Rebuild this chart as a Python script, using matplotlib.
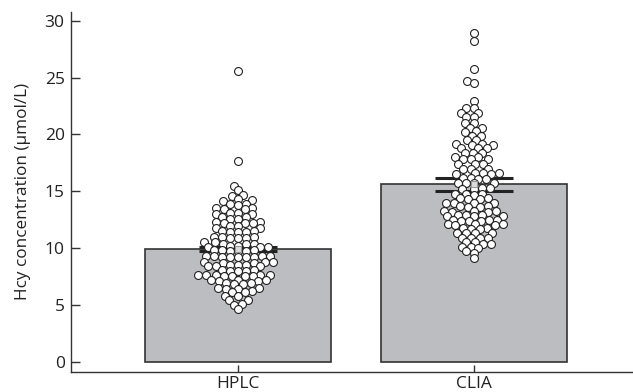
import matplotlib
matplotlib.use("Agg")
import matplotlib.pyplot as plt
import numpy as np

categories = ["HPLC", "CLIA"]
means = [9.9, 15.6]
sems = [0.2, 0.54]
yticks = [0, 5, 10, 15, 20, 25, 30]

hplc = [25.6, 17.7,
        15.5, 15.1, 14.7, 14.6,
        14.3, 14.2, 14.1,
        13.9, 13.9, 13.8,
        13.5, 13.5, 13.4, 13.4,
        13.1, 13.1, 13.0, 13.0,
        12.7, 12.7, 12.6, 12.6,
        12.3, 12.3, 12.2, 12.2, 12.2,
        11.9, 11.9, 11.8, 11.8,
        11.5, 11.5, 11.4, 11.4, 11.4,
        11.0, 11.0, 11.0, 10.9, 10.9, 10.9,
        10.5, 10.5, 10.4, 10.4, 10.4,
        10.2, 10.2, 10.1, 10.1, 10.1,
        9.8, 9.8, 9.8, 9.7, 9.7, 9.7,
        9.3, 9.3, 9.3, 9.3, 9.2, 9.2, 9.2, 9.2, 9.2,
        8.8, 8.8, 8.8, 8.7, 8.7,
        8.5, 8.5, 8.5, 8.4, 8.4, 8.4,
        8.1, 8.1, 8.0, 8.0, 8.0,
        7.6, 7.6, 7.6, 7.6, 7.6, 7.5, 7.5, 7.5, 7.5,
        7.2, 7.2, 7.2, 7.1, 7.1,
        6.9, 6.9, 6.8, 6.8,
        6.5, 6.5, 6.4, 6.4,
        6.2, 6.1, 6.1,
        5.8, 5.8,
        5.4, 5.4,
        5.1, 5.0,
        4.6]

clia = [28.9, 28.2, 25.8, 24.7, 24.5,
        22.9,
        22.3, 22.3,
        21.9, 21.9,
        21.5, 21.5,
        21.0, 21.0,
        20.6, 20.6,
        20.3, 20.2,
        19.9, 19.9,
        19.5, 19.5,
        19.2, 19.2, 19.1, 19.1,
        18.8, 18.8, 18.8,
        18.4, 18.4, 18.4,
        18.0, 18.0,
        17.8, 17.8, 17.8,
        17.4, 17.4, 17.4,
        17.0, 17.0, 17.0,
        16.6, 16.6, 16.6, 16.5, 16.5,
        16.2, 16.2, 16.1, 16.1,
        15.7, 15.7, 15.7, 15.7,
        15.3, 15.3, 15.2, 15.2,
        14.8, 14.8, 14.8, 14.7,
        14.4, 14.4, 14.3, 14.3,
        14.0, 14.0, 14.0, 14.0,
        13.7, 13.7, 13.6, 13.6,
        13.3, 13.3, 13.3, 13.2, 13.2,
        12.9, 12.9, 12.9, 12.8, 12.8, 12.8,
        12.5, 12.5, 12.5, 12.4, 12.4, 12.4,
        12.1, 12.1, 12.1, 12.0, 12.0,
        11.8, 11.8, 11.7, 11.7,
        11.3, 11.3, 11.3, 11.3,
        10.9, 10.9, 10.9, 10.9,
        10.5, 10.5, 10.4, 10.4,
        10.1, 10.1, 10.0,
        9.7, 9.6,
        9.1]

plt.rcParams['font.family'] = ['Open Sans', 'DejaVu Sans']

fig = plt.figure(figsize=(6.33, 3.92), dpi=100)
ax = fig.add_axes([0.112, 0.0518, 0.888, 0.918])
ax.set_xlim(-0.71, 1.675)
ax.set_ylim(-0.88, 30.79)

xpos = np.arange(len(categories))
ax.bar(xpos, means, width=0.79, color="#bcbdc0", edgecolor="#333333", linewidth=1.2, zorder=1)


def beeswarm_offsets(values, wx, wy):
    """x offsets (pixels) so that points do not collide within an ellipse wx by wy."""
    ypx = ax.transData.transform(np.column_stack([np.zeros(len(values)), values]))[:, 1]
    order = np.argsort(ypx, kind="stable")
    placed_x, placed_y = [], []
    offsets = np.zeros(len(values))
    for i in order:
        y = ypx[i]
        cands = [0.0]
        for px, py in zip(placed_x, placed_y):
            dy = abs(py - y)
            if dy < wy:
                dx = wx * np.sqrt(1 - (dy / wy) ** 2)
                cands += [px - dx, px + dx]
        cands = sorted(cands, key=lambda c: (round(abs(c), 6), c))
        for c in cands:
            ok = True
            for px, py in zip(placed_x, placed_y):
                if ((px - c) / wx) ** 2 + ((py - y) / wy) ** 2 < 1 - 1e-6:
                    ok = False
                    break
            if ok:
                offsets[i] = c
                placed_x.append(c)
                placed_y.append(y)
                break
    return offsets


px_per_x = ax.transData.transform((1, 0))[0] - ax.transData.transform((0, 0))[0]
for k, vals in enumerate([hplc, clia]):
    off = beeswarm_offsets(np.array(vals), 8.0, 5.5) / px_per_x
    ax.scatter(xpos[k] + off, vals, s=5.7 ** 2, facecolor="white", edgecolor="#222222",
               linewidth=0.8, zorder=3)

ax.errorbar(xpos, means, yerr=sems, fmt='none', ecolor="#222222", elinewidth=0,
            capsize=28, capthick=2.2, zorder=2)
ax.plot(xpos, means, 's', ms=4, mfc="#dcdcdc", mec="#999999", mew=0.8, zorder=4)

ax.set_xticks(xpos)
ax.set_xticklabels(categories)
ax.set_yticks(yticks)
ax.spines['top'].set_visible(False)
ax.spines['right'].set_visible(False)
for s in ['left', 'bottom']:
    ax.spines[s].set_color("#333333")
    ax.spines[s].set_linewidth(1.0)
ax.tick_params(axis='both', direction='in', width=1.0, color="#333333",
               labelsize=12.5, labelcolor="#222222")
ax.tick_params(axis='y', length=6.5, pad=4.5)
ax.tick_params(axis='x', length=5, pad=3)
ax.set_ylabel("Hcy concentration (μmol/L)", fontsize=12.3, color="#222222", labelpad=10)

fig.savefig("out.png", dpi=100)
